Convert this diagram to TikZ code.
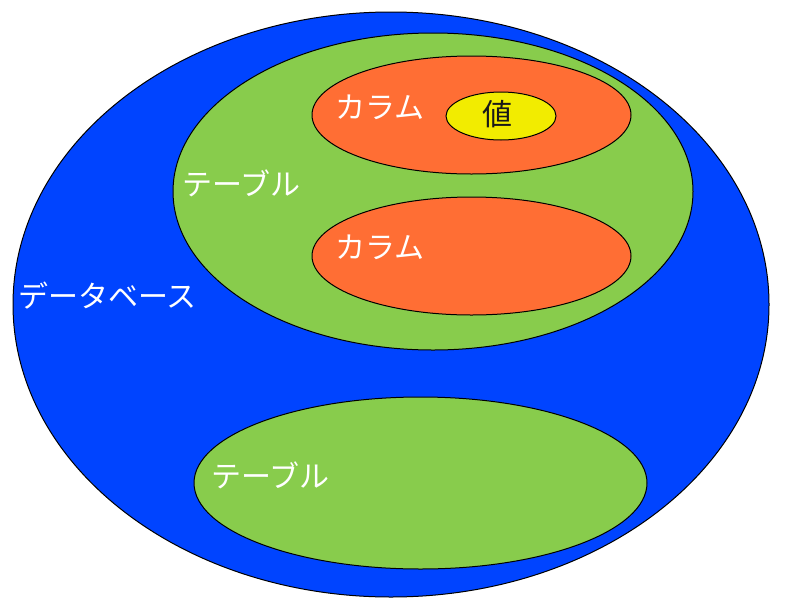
\documentclass[tikz,border=0pt]{standalone}
\usepackage{fontspec}
\usepackage{tikz}
\usetikzlibrary{positioning}
\newfontfamily\jpfont{Noto Sans CJK JP}
\definecolor{dbblue}{RGB}{0,68,255}
\definecolor{tablegreen}{RGB}{136,204,76}
\definecolor{columnorange}{RGB}{255,110,52}
\definecolor{valueyellow}{RGB}{242,236,0}

\begin{document}
\begin{tikzpicture}[x=1pt, y=-1pt,
    setline/.style={draw=black, line width=1pt},
    setlabel/.style={font=\jpfont\fontsize{30}{30}\selectfont, text=white, inner sep=0pt, anchor=west}]
    \useasboundingbox (0,0) rectangle (800,600);

    % Database
    \filldraw[setline, fill=dbblue] (391,304.5) ellipse [x radius=378, y radius=292.5];
    \node[setlabel] (dblabel) at (18,296) {データベース};

    % Upper table
    \filldraw[setline, fill=tablegreen] (433,191.5) ellipse [x radius=260, y radius=158.5];
    \node[setlabel] (tablelabelA) at (182,183.5) {テーブル};

    % Columns
    \filldraw[setline, fill=columnorange] (471.5,115) ellipse [x radius=159.5, y radius=59];
    \node[setlabel] (columnlabelA) at (335,107) {カラム};
    \filldraw[setline, fill=columnorange] (471.5,256) ellipse [x radius=159.5, y radius=59];
    \node[setlabel] (columnlabelB) at (335,247) {カラム};

    % Value
    \filldraw[setline, fill=valueyellow] (501,116) ellipse [x radius=55, y radius=24];
    \node[setlabel, text=black!90, anchor=center] (valuelabel) at (497.5,114) {値};

    % Lower table
    \filldraw[setline, fill=tablegreen] (420.5,483) ellipse [x radius=226.5, y radius=86];
    \node[setlabel] (tablelabelB) at (211,475) {テーブル};
\end{tikzpicture}
\end{document}
